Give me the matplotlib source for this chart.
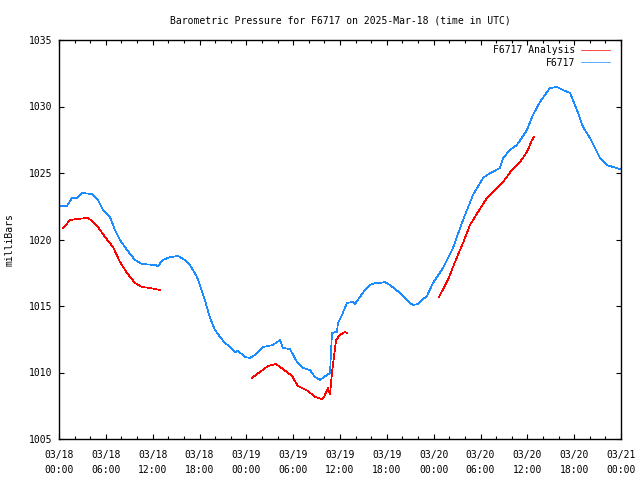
import matplotlib
matplotlib.use("Agg")
import matplotlib.pyplot as plt
from matplotlib.ticker import MultipleLocator

# hours since 2025-03-18 00:00 UTC
blue_h = [0, 1.02, 1.67, 2.31, 2.95, 4.23, 5.0, 5.64, 6.53, 7.17, 7.82, 8.71, 9.74, 10.63,
          12.30, 12.68, 13.32, 14.22, 15.24, 16.14, 16.78, 17.68, 18.70, 19.34, 19.98, 20.63,
          21.27, 21.91, 22.55, 22.93, 23.83, 24.47, 25.11, 26.13, 27.42, 28.31, 28.70, 29.59,
          30.49, 31.26, 32.15, 32.80, 33.44, 34.33, 34.72, 34.97, 35.61, 35.74, 36.25, 36.89,
          37.66, 37.92, 38.56, 39.20, 39.84, 40.48, 41.12, 41.76, 42.40, 43.04, 43.68, 44.32,
          44.97, 45.35, 45.99, 46.50, 47.14, 47.91, 49.19, 50.47, 51.76, 53.04, 54.32, 54.83,
          56.50, 56.88, 57.78, 58.67, 59.95, 60.72, 61.62, 62.90, 63.80, 64.57, 65.46, 66.36,
          67.13, 68.03, 69.31, 70.20, 70.97, 71.87]
blue_v = [1022.52, 1022.52, 1023.12, 1023.12, 1023.50, 1023.42, 1022.97, 1022.22, 1021.69,
          1020.71, 1019.96, 1019.21, 1018.46, 1018.16, 1018.08, 1018.01, 1018.46, 1018.68,
          1018.76, 1018.46, 1018.08, 1017.18, 1015.45, 1014.10, 1013.20, 1012.67, 1012.22,
          1011.92, 1011.54, 1011.62, 1011.17, 1011.09, 1011.32, 1011.92, 1012.07, 1012.44,
          1011.84, 1011.77, 1010.79, 1010.34, 1010.19, 1009.66, 1009.44, 1009.81, 1009.96,
          1012.97, 1013.05, 1013.72, 1014.32, 1015.23, 1015.30, 1015.15, 1015.68, 1016.20,
          1016.58, 1016.73, 1016.73, 1016.80, 1016.58, 1016.28, 1015.98, 1015.60, 1015.23,
          1015.08, 1015.15, 1015.45, 1015.75, 1016.73, 1017.86, 1019.36, 1021.47, 1023.35,
          1024.62, 1024.85, 1025.38, 1026.13, 1026.73, 1027.11, 1028.23, 1029.36, 1030.34,
          1031.39, 1031.47, 1031.24, 1031.02, 1029.74, 1028.46, 1027.63, 1026.13, 1025.60,
          1025.45, 1025.30]

red1_h = [0.55, 1.41, 2.31, 3.72, 4.23, 5.00, 5.89, 6.92, 7.81, 8.71, 9.74, 10.63, 11.66, 12.94]
red1_v = [1020.86, 1021.47, 1021.54, 1021.62, 1021.39, 1020.94, 1020.19, 1019.44, 1018.31,
          1017.48, 1016.73, 1016.43, 1016.35, 1016.20]

red2_h = [24.69, 25.75, 26.77, 27.80, 28.70, 29.85, 30.62, 31.90, 32.80, 33.69, 33.95, 34.46,
          34.72, 34.97, 35.49, 36.00, 36.64, 36.89]
red2_v = [1009.59, 1010.04, 1010.49, 1010.64, 1010.26, 1009.74, 1008.98, 1008.61, 1008.16,
          1008.01, 1008.16, 1008.83, 1008.38, 1009.96, 1012.44, 1012.82, 1013.05, 1012.97]

red3_h = [48.68, 49.83, 50.73, 51.76, 52.65, 53.68, 54.83, 56.11, 56.88, 58.03, 59.06, 59.95,
          60.60, 60.85]
red3_v = [1015.68, 1016.96, 1018.31, 1019.74, 1021.09, 1022.07, 1023.12, 1023.87, 1024.32,
          1025.23, 1025.83, 1026.58, 1027.48, 1027.71]

xtick_pos = [0, 6, 12, 18, 24, 30, 36, 42, 48, 54, 60, 66, 72]
xtick_labels = ["03/18\n00:00", "03/18\n06:00", "03/18\n12:00", "03/18\n18:00",
                "03/19\n00:00", "03/19\n06:00", "03/19\n12:00", "03/19\n18:00",
                "03/20\n00:00", "03/20\n06:00", "03/20\n12:00", "03/20\n18:00",
                "03/21\n00:00"]
ytick_pos = [1005, 1010, 1015, 1020, 1025, 1030, 1035]

plt.rcParams['font.family'] = ['DejaVu Sans Mono']
plt.rcParams['font.size'] = 7

RED = '#ff0000'
BLUE = '#1a8cff'

fig = plt.figure(figsize=(6.4, 4.8), dpi=100)
ax = fig.add_axes([59/640, 1 - 439/480, (621-59)/640, (439-40)/480])

LW = 0.5
ln_r, = ax.plot(red1_h, red1_v, color=RED, lw=LW, antialiased=False, label='F6717 Analysis')
ax.plot(red2_h, red2_v, color=RED, lw=LW, antialiased=False)
ax.plot(red3_h, red3_v, color=RED, lw=LW, antialiased=False)
ln_b, = ax.plot(blue_h, blue_v, color=BLUE, lw=LW, antialiased=False, label='F6717')

ax.set_xlim(0, 72)
ax.set_ylim(1005, 1035)
ax.set_xticks(xtick_pos)
ax.set_xticklabels(xtick_labels, linespacing=1.6)
ax.xaxis.set_minor_locator(MultipleLocator(2))
ax.set_yticks(ytick_pos)
ax.set_yticklabels([str(v) for v in ytick_pos])
ax.tick_params(which='both', direction='in', top=True, right=True, width=0.8)
ax.tick_params(which='major', length=3.5, pad=5)
ax.tick_params(which='minor', length=2)
ax.tick_params(axis='x', which='major', pad=8)
for s in ax.spines.values():
    s.set_linewidth(1.0)

ax.set_title('Barometric Pressure for F6717 on 2025-Mar-18 (time in UTC)', fontsize=7, pad=12)
ax.set_ylabel('milliBars', labelpad=10)

leg = ax.legend(handles=[ln_r, ln_b], loc='upper right', bbox_to_anchor=(0.9804, 0.987),
                frameon=False, markerfirst=False, handlelength=3.0, handletextpad=0.6,
                labelspacing=0.25, borderpad=0, borderaxespad=0, fontsize=7)

fig.savefig('out.png', dpi=100)
